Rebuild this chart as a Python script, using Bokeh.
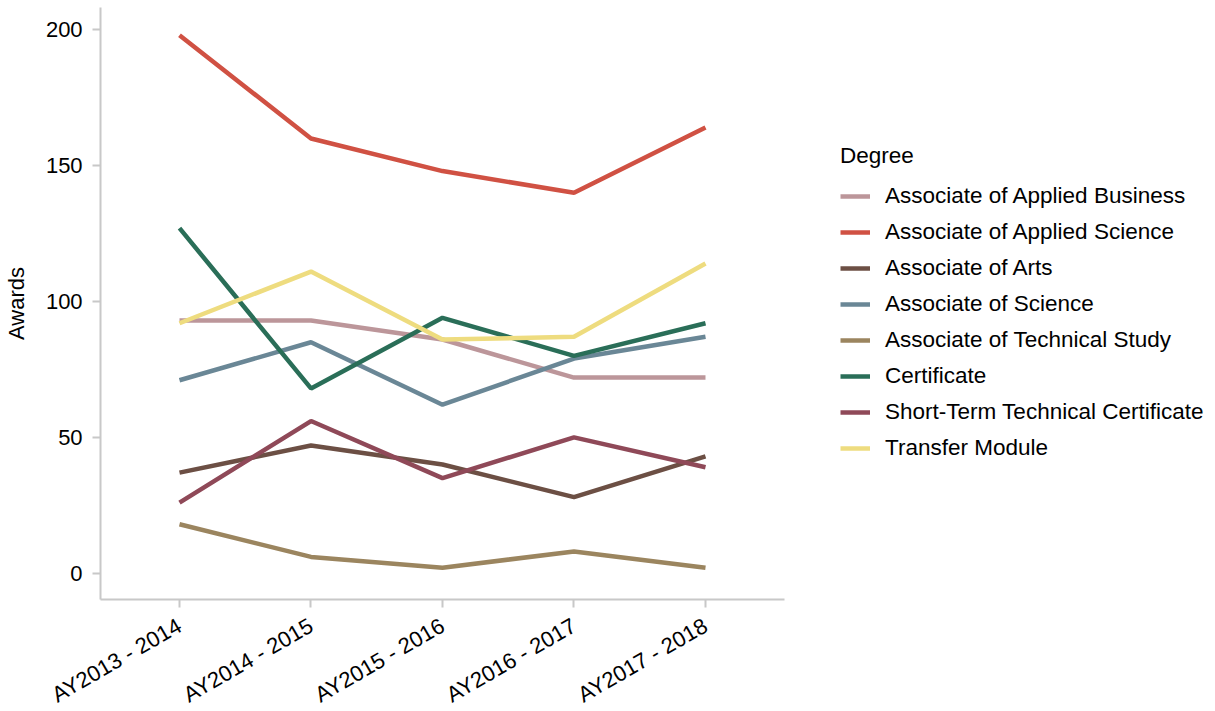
from bokeh.plotting import figure
from bokeh.models import Range1d, Legend, LegendItem, FixedTicker
from bokeh.embed import file_html
from bokeh.resources import INLINE
import math

years = ["AY2013 - 2014", "AY2014 - 2015", "AY2015 - 2016", "AY2016 - 2017", "AY2017 - 2018"]

degrees = [
    "Associate of Applied Business",
    "Associate of Applied Science",
    "Associate of Arts",
    "Associate of Science",
    "Associate of Technical Study",
    "Certificate",
    "Short-Term Technical Certificate",
    "Transfer Module",
]

applied_business = [93, 93, 86, 72, 72]
applied_science = [198, 160, 148, 140, 164]
arts = [37, 47, 40, 28, 43]
science = [71, 85, 62, 79, 87]
technical_study = [18, 6, 2, 8, 2]
certificate = [127, 68, 94, 80, 92]
short_term = [26, 56, 35, 50, 39]
transfer = [92, 111, 86, 87, 114]

series = [applied_business, applied_science, arts, science, technical_study,
          certificate, short_term, transfer]

colors = ["#bc969a", "#d05143", "#6c4f44", "#6a8796", "#9b855f",
          "#2a6e58", "#8f4958", "#eedc7f"]

FONT = "Liberation Sans"
Y_LOW, Y_HIGH = -9.8, 208.3
X_LOW, X_HIGH = -0.6, 4.6

W, H = 1210, 708
xpos = list(range(len(years)))

p = figure(
    width=W, height=H,
    x_range=Range1d(-1.3612, 7.8403),
    y_range=Range1d(-49.8, 210.78),
    output_backend="svg", toolbar_location=None,
    min_border_left=0, min_border_top=0, min_border_bottom=0, min_border_right=0,
)
p.outline_line_color = None
p.grid.visible = False
p.background_fill_color = "white"
p.border_fill_color = "white"

items = []
for name, vals, c in zip(degrees, series, colors):
    r = p.line(x=xpos, y=vals, line_color=c, line_width=4.5)
    items.append(LegendItem(label=name, renderers=[r]))

# axes
for ax in (p.xaxis[0], p.yaxis[0]):
    ax.axis_line_color = "#c8c8c8"
    ax.axis_line_width = 2
    ax.major_tick_line_color = "#c8c8c8"
    ax.major_tick_line_width = 2
    ax.major_tick_in = 0
    ax.major_tick_out = 8
    ax.minor_tick_line_color = None
    ax.major_label_text_font = FONT
    ax.major_label_text_font_size = "22px"
    ax.major_label_text_color = "#000000"

p.yaxis.ticker = FixedTicker(ticks=[0, 50, 100, 150, 200])
p.yaxis.bounds = (Y_LOW, Y_HIGH)
p.yaxis.fixed_location = X_LOW
p.yaxis.axis_label = "Awards"
p.yaxis.axis_label_text_font = FONT
p.yaxis.axis_label_text_font_size = "22px"
p.yaxis.axis_label_text_font_style = "normal"
p.yaxis.axis_label_text_color = "#000000"
p.yaxis.axis_label_standoff = 14
p.yaxis.major_label_standoff = 10

p.xaxis.ticker = FixedTicker(ticks=xpos)
p.xaxis.major_label_overrides = {i: yr for i, yr in zip(xpos, years)}
p.xaxis.bounds = (X_LOW, X_HIGH)
p.xaxis.fixed_location = Y_LOW
p.xaxis.major_label_orientation = math.pi / 6
p.xaxis.major_label_standoff = 16

legend = Legend(items=items, location=(840, 245))
legend.title = "Degree"
legend.title_text_font = FONT
legend.title_text_font_size = "22.5px"
legend.title_text_font_style = "normal"
legend.title_text_color = "#000000"
legend.title_standoff = 12
legend.label_text_font = FONT
legend.label_text_font_size = "22.5px"
legend.label_text_color = "#000000"
legend.glyph_width = 30
legend.glyph_height = 30
legend.label_height = 30
legend.label_standoff = 15
legend.spacing = 6
legend.padding = 0
legend.margin = 0
legend.border_line_color = None
legend.background_fill_alpha = 0
p.add_layout(legend, "center")

open("out.html", "w").write(file_html(p, INLINE))
